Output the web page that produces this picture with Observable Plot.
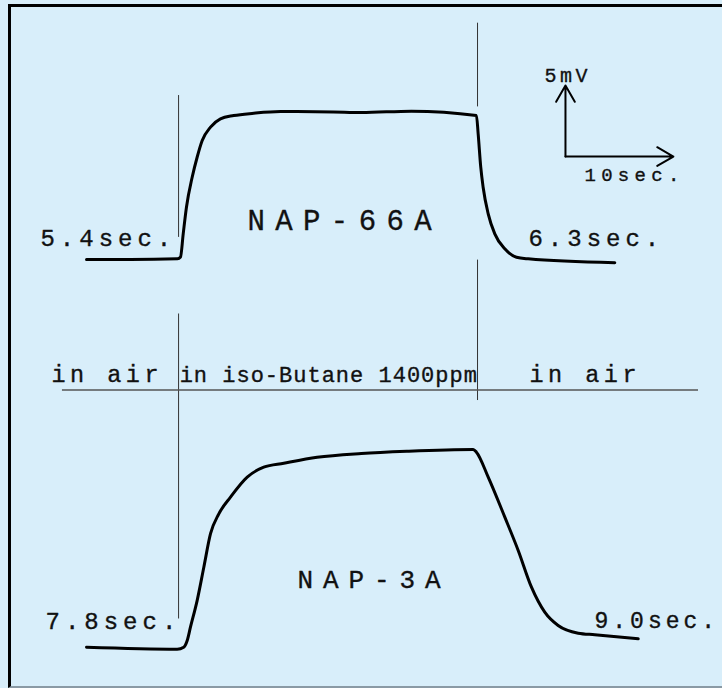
<!DOCTYPE html>
<html><head><meta charset="utf-8">
<script src="https://cdn.jsdelivr.net/npm/d3@7"></script>
<script src="https://cdn.jsdelivr.net/npm/@observablehq/plot@0.6"></script>
<style>
html,body{margin:0;padding:0;background:#d8eefa;overflow:hidden}
#wrap{position:relative;width:722px;height:688px}
#frame{position:absolute;left:8px;top:4px;right:0;bottom:0;border-left:3px solid #000;border-top:3px solid #000;border-bottom:2px solid #8a9aa5;box-sizing:border-box;pointer-events:none;z-index:2}
</style></head><body>
<div id="wrap"><div id="frame"></div></div>
<script>
// Time (s, 0 = gas switched on) and recorder output (mV, chart offset) per sensor
const time66 = [-8.53,-4.46,-0.10,0.18,0.43,0.73,1.26,1.72,2.19,2.96,3.88,5.11,6.97,9.44,14.35,16.94,21.57,27.60,27.76,28.00,28.22,28.69,29.30,30.23,31.31,32.39,40.42];
const volt66 = [30.24,30.24,30.29,30.42,32.05,33.93,36.04,37.45,38.63,39.57,40.16,40.39,40.55,40.67,40.64,40.60,40.70,40.39,39.10,36.75,35.34,33.46,32.05,31.00,30.40,30.29,30.01];
const time3 = [-8.53,-0.13,0.48,0.80,1.10,1.72,2.34,2.96,3.73,4.81,6.36,7.89,9.75,12.84,16.94,21.28,27.30,27.60,28.69,30.23,31.47,32.70,33.93,35.17,37.03,38.57,42.59];
const volt3 = [2.91,2.77,2.91,3.38,4.32,6.20,8.55,10.91,12.31,13.49,14.90,15.60,15.88,16.30,16.57,16.73,16.85,16.66,14.90,12.08,9.73,7.14,5.38,4.44,3.90,3.79,3.50];

// Gas switching marks (s) and their drawn extents (mV)
const markTime = [0, 0, 27.7, 27.7];
const markTop = [41.8, 26.4, 46.9, 30.2];
const markBottom = [31.8, 4.9, 41.0, 20.3];
// Separator line between the two traces
const sepLevel = [21.04];
const sepStart = -10.76, sepEnd = 48.18;

// Scale bar: 10 s and 5 mV
const scaleTime = [35.85, 45.85];
const scaleVolt = [37.5, 42.5];

// Labels
const responseLabels = ["5.4sec.", "6.3sec.", "7.8sec.", "9.0sec."];
const responseT = [-12.80, 32.42, -12.33, 38.54];
const responseV = [31.77, 31.77, 4.77, 4.77];
const airLabels = ["in air", "in air"];
const airT = [-11.78, 32.51];
const airV = [22.15, 22.15];
const gasLabel = ["in iso-Butane 1400ppm"];
const gasT = [0.1];
const gasV = [22.13];
const sensorLabels = ["NAP-66A", "NAP-3A"];
const sensorT = [6.38, 11.02];
const sensorV = [33.01, 7.70];
const scaleLabels = ["5mV", "10sec."];
const scaleLabelT = [33.90, 37.61];
const scaleLabelV = [43.24, 36.24];

const row = (ts, vs) => ts.map((t, i) => ({t, v: vs[i]}));
const nap66 = row(time66, volt66);
const nap3 = row(time3, volt3);
const marks = markTime.map((t, i) => ({t, top: markTop[i], bottom: markBottom[i]}));
const lbl = (txt, ts, vs) => txt.map((s, i) => ({s, t: ts[i], v: vs[i]}));
const arrows = [
  {x1: scaleTime[0], y1: scaleVolt[0], x2: scaleTime[0], y2: scaleVolt[1]},
  {x1: scaleTime[0], y1: scaleVolt[0], x2: scaleTime[1], y2: scaleVolt[0]}
];
const font = "Liberation Mono, DejaVu Sans Mono, monospace";
const txt = (data, size) => Plot.text(data, {x: "t", y: "v", text: "s", textAnchor: "start", fontSize: size, fontFamily: font, fill: "#111", stroke: "#111", strokeWidth: 0.35});
const responseAll = lbl(responseLabels, responseT, responseV);

const chart = Plot.plot({
  width: 722, height: 688,
  margin: 0,
  style: {background: "#d8eefa"},
  x: {domain: [-16.5, 50.4], axis: null},
  y: {domain: [0, 48.5], axis: null},
  marks: [
    Plot.ruleX(marks, {x: "t", y1: "bottom", y2: "top", stroke: "#333", strokeWidth: 1}),
    Plot.ruleY(sepLevel, {x1: sepStart, x2: sepEnd, stroke: "#555", strokeWidth: 1.5}),
    Plot.line(nap66, {x: "t", y: "v", curve: "monotone-x", stroke: "#000", strokeWidth: 3}),
    Plot.line(nap3, {x: "t", y: "v", curve: "monotone-x", stroke: "#000", strokeWidth: 3}),
    Plot.arrow(arrows, {x1: "x1", y1: "y1", x2: "x2", y2: "y2", stroke: "#000", strokeWidth: 2, headLength: 14}),
    txt(responseAll.slice(0, 3), 24),
    txt(responseAll.slice(3), 23),
    txt(lbl(airLabels, airT, airV), 23.5),
    txt(lbl(gasLabel, gasT, gasV), 22),
    txt(lbl(sensorLabels.slice(0, 1), sensorT, sensorV), 29),
    txt(lbl(sensorLabels.slice(1), sensorT.slice(1), sensorV.slice(1)), 26),
    txt(lbl(scaleLabels.slice(0, 1), scaleLabelT, scaleLabelV), 20),
    txt(lbl(scaleLabels.slice(1), scaleLabelT.slice(1), scaleLabelV.slice(1)), 19)
  ]
});

const spacing = {"29": 10.4, "26": 9.9, "24": 5.0, "23": 4.0, "23.5": 4.5, "22": 1, "20": 3.5, "19": 5.3};
chart.querySelectorAll("g[font-size]").forEach(g => {
  const s = spacing[g.getAttribute("font-size")];
  if (s != null) g.setAttribute("letter-spacing", s);
});
document.getElementById("wrap").appendChild(chart);
</script>
</body></html>
